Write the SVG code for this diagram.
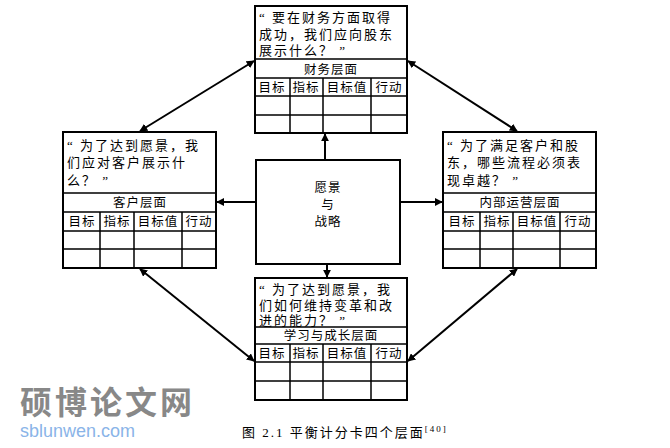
<svg xmlns="http://www.w3.org/2000/svg" width="670" height="448" viewBox="0 0 670 448">
<style>
.b{fill:#fff;stroke:#000;stroke-width:2}
.l{stroke:#000;stroke-width:1.5}
.t{font-family:"Liberation Serif","Noto Sans CJK SC",serif;font-size:13px;fill:#000;letter-spacing:2px}
.s{font-family:"Liberation Serif","Noto Sans CJK SC",serif;font-size:12.5px;fill:#000;text-anchor:middle;letter-spacing:1px}
.c{stroke:#000;stroke-width:2;fill:none;marker-end:url(#a)}
.d{stroke:#000;stroke-width:2;fill:none;marker-end:url(#a);marker-start:url(#a)}
</style>
<defs><marker id="a" viewBox="0 0 10 10" refX="9" refY="5" markerWidth="4" markerHeight="4" orient="auto-start-reverse"><path d="M0,0L10,5L0,10z"/></marker></defs>
<rect width="670" height="448" fill="#fff"/>
<g id="top">
<rect class="b" x="255" y="6" width="152" height="127"/>
<path class="l" d="M255 59H407M255 78H407M255 96H407M255 115H407M290 78V133M323 78V133M371 78V133"/>
<text class="t" x="259" y="22">“ 要在财务方面取得</text>
<text class="t" x="259" y="39">成功，我们应向股东</text>
<text class="t" x="259" y="55">展示什么？ ”</text>
<text class="s" x="331" y="74">财务层面</text>
<text class="s" x="272" y="92">目标</text><text class="s" x="306" y="92">指标</text><text class="s" x="347" y="92">目标值</text><text class="s" x="389" y="92">行动</text>
</g>
<g id="left">
<rect class="b" x="63" y="132" width="153" height="136"/>
<path class="l" d="M63 193H216M63 212H216M63 231H216M63 249H216M100 212V268M134 212V268M182 212V268"/>
<text class="t" x="67" y="150">“ 为了达到愿景，我</text>
<text class="t" x="67" y="167">们应对客户展示什</text>
<text class="t" x="67" y="185">么？ ”</text>
<text class="s" x="140" y="207">客户层面</text>
<text class="s" x="82" y="226">目标</text><text class="s" x="117" y="226">指标</text><text class="s" x="158" y="226">目标值</text><text class="s" x="199" y="226">行动</text>
</g>
<g id="right">
<rect class="b" x="443" y="132" width="153" height="136"/>
<path class="l" d="M443 193H596M443 212H596M443 231H596M443 249H596M480 212V268M513 212V268M560 212V268"/>
<text class="t" x="447" y="150">“ 为了满足客户和股</text>
<text class="t" x="447" y="167">东，哪些流程必须表</text>
<text class="t" x="447" y="185">现卓越？ ”</text>
<text class="s" x="520" y="207">内部运营层面</text>
<text class="s" x="462" y="226">目标</text><text class="s" x="497" y="226">指标</text><text class="s" x="537" y="226">目标值</text><text class="s" x="578" y="226">行动</text>
</g>
<g id="bottom">
<rect class="b" x="255" y="278" width="152" height="122"/>
<path class="l" d="M255 327H407M255 344H407M255 362H407M255 381H407M290 344V400M323 344V400M371 344V400"/>
<text class="t" x="259" y="294">“ 为了达到愿景，我</text>
<text class="t" x="259" y="310">们如何维持变革和改</text>
<text class="t" x="259" y="325">进的能力？ ”</text>
<text class="s" x="331" y="340">学习与成长层面</text>
<text class="s" x="272" y="358">目标</text><text class="s" x="306" y="358">指标</text><text class="s" x="347" y="358">目标值</text><text class="s" x="389" y="358">行动</text>
</g>
<g id="center">
<rect class="b" x="256" y="160" width="144" height="104"/>
<text class="s" x="328" y="192">愿景</text>
<text class="s" x="328" y="209">与</text>
<text class="s" x="328" y="226">战略</text>
</g>
<g id="connectors">
<path class="c" d="M325 160V134"/>
<path class="c" d="M256 202H217"/>
<path class="c" d="M400 202H442"/>
<path class="c" d="M327 264V277"/>
<path class="d" d="M140 131L254 61"/>
<path class="d" d="M408 61L517 131"/>
<path class="d" d="M140 269L254 361"/>
<path class="d" d="M517 269L408 361"/>
</g>
<g id="watermark">
<text x="20" y="414" style="font-family:'Noto Sans CJK SC',sans-serif;font-size:32px;fill:#888;font-weight:bold" letter-spacing="3">硕博论文网</text>
<text x="20" y="437" style="font-family:'Liberation Sans',sans-serif;font-size:18px;fill:#8ab4e8">sblunwen.com</text>
</g>
<text class="t" x="242" y="437" font-size="12" letter-spacing="1">图 2.1 平衡计分卡四个层面<tspan font-size="9" dy="-5">[40]</tspan></text>
</svg>
